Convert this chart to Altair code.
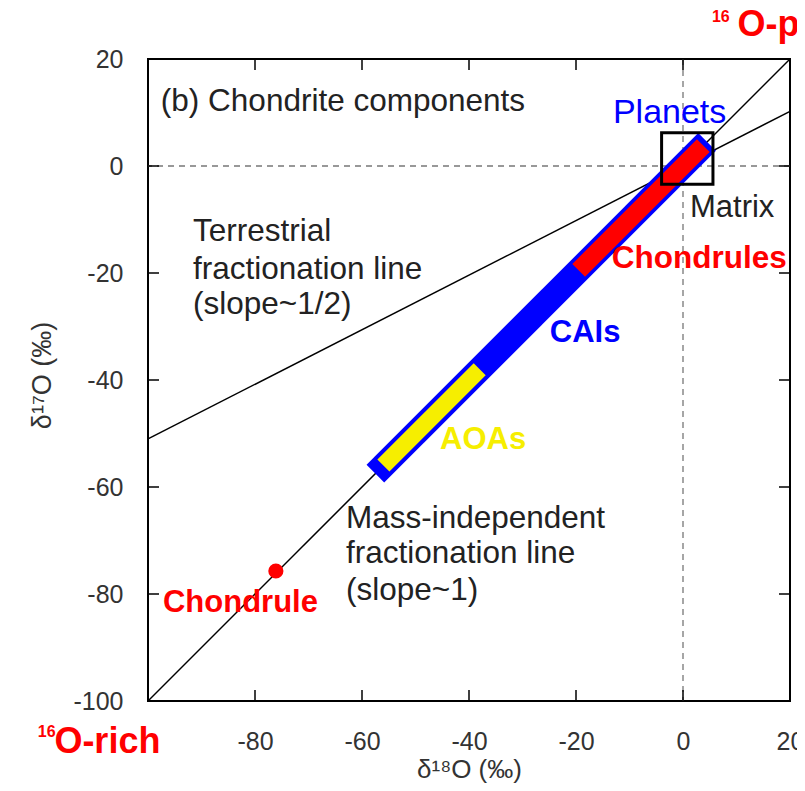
import altair as alt
import pandas as pd

# ---------------- data ----------------
x_tick_labels = [-80, -60, -40, -20, 0, 20]
y_tick_labels = [-100, -80, -60, -40, -20, 0, 20]
inner_ticks = [-80, -60, -40, -20, 0]

# mass-independent fractionation line (slope ~1)
mif_x = [-100, 20]
mif_y = [-100, 20]
# terrestrial fractionation line (slope ~1/2)
tfl_x = [-100, 20]
tfl_y = [-51.0, 10.2]

# component ranges along the slope-1 line
cai_x = [-57.5, 4.5]
cai_y = [-57.5, 4.5]
aoa_x = [-56.0, -38.0]
aoa_y = [-56.0, -38.0]
chondrules_x = [-19.5, 3.8]
chondrules_y = [-19.5, 3.8]

# matrix box
matrix_x = [-4.0, 5.6]
matrix_y = [-3.4, 6.2]

# single chondrule point
chondrule_pt_x = [-76.1]
chondrule_pt_y = [-75.7]

# labels
title_lab = {"x": [-97.6], "y": [12.0], "t": ["(b) Chondrite components"]}
planets_lab = {"x": [-13.1], "y": [9.9], "t": ["Planets"]}
matrix_lab = {"x": [1.3], "y": [-7.9], "t": ["Matrix"]}
chondrules_lab = {"x": [-13.3], "y": [-17.4], "t": ["Chondrules"]}
cais_lab = {"x": [-24.9], "y": [-31.2], "t": ["CAIs"]}
aoas_lab = {"x": [-45.4], "y": [-51.2], "t": ["AOAs"]}
chondrule_lab = {"x": [-97.2], "y": [-81.7], "t": ["Chondrule"]}
tfl_lab = {"x": [-91.6, -91.6, -91.6], "y": [-12.3, -19.4, -26.0],
           "t": ["Terrestrial", "fractionation line", "(slope~1/2)"]}
mif_lab = {"x": [-63.0, -63.0, -63.0], "y": [-66.0, -72.5, -79.4],
           "t": ["Mass-independent", "fractionation line", "(slope~1)"]}
rich_sup = {"x": [-120.6], "y": [-105.8], "t": ["16"]}
rich_main = {"x": [-117.5], "y": [-107.7], "t": ["O-rich"]}
poor_sup = {"x": [5.4], "y": [27.8], "t": ["16"]}
poor_main = {"x": [10.2], "y": [26.3], "t": ["O-poor"]}

W = 642
H = 642
FONT = "Liberation Sans"
TXT = "#222222"
BLUE = "#0000ff"
RED = "#ff0000"
YELLOW = "#f6ee00"

xs = alt.Scale(domain=[-100, 20], nice=False, zero=False)
ys = alt.Scale(domain=[-100, 20], nice=False, zero=False)

AX = alt.Axis(
    values=x_tick_labels, title="δ¹⁸O (‰)", domain=False, ticks=False, grid=False,
    labelExpr="datum.value + ''",
    labelFontSize=25, labelFont=FONT, labelColor="#333333", labelPadding=28,
    labelFlush=False, titleFont=FONT + ", DejaVu Sans", titleFontSize=26,
    titleFontWeight="normal", titleColor="#333333", titleY=68, titleBaseline="middle")
AY = alt.Axis(
    values=y_tick_labels, title="δ¹⁷O (‰)", domain=False, ticks=False, grid=False,
    labelExpr="datum.value + ''",
    labelFontSize=25, labelFont=FONT, labelColor="#333333", labelPadding=25,
    labelFlush=False, titleFont=FONT + ", DejaVu Sans", titleFontSize=27,
    titleFontWeight="normal", titleColor="#333333", titleX=-106, titleY=316,
    titleAngle=270, titleAlign="center", titleBaseline="middle")


def X(f="x"):
    return alt.X(f + ":Q", scale=xs, axis=AX, title="δ¹⁸O (‰)")


def Y(f="y"):
    return alt.Y(f + ":Q", scale=ys, axis=AY, title="δ¹⁷O (‰)")


def xy(df_x, df_y):
    return pd.DataFrame({"x": df_x, "y": df_y})


mif = alt.Chart(xy(mif_x, mif_y)).mark_line(color="black", strokeWidth=1.5).encode(x=X(), y=Y())

zero_df = pd.DataFrame({"v": [0]})
zero_v = alt.Chart(zero_df).mark_rule(color="#777777", strokeDash=[6, 5], strokeWidth=1.3).encode(x=X("v"))
zero_h = alt.Chart(zero_df).mark_rule(color="#777777", strokeDash=[6, 5], strokeWidth=1.3).encode(y=Y("v"))

tfl = alt.Chart(xy(tfl_x, tfl_y)).mark_line(color="black", strokeWidth=1.5).encode(x=X(), y=Y())


def band(bx, by, color, width):
    return alt.Chart(xy(bx, by)).mark_line(color=color, strokeWidth=width, strokeCap="butt").encode(x=X(), y=Y())


cai_band = band(cai_x, cai_y, BLUE, 25)
aoa_band = band(aoa_x, aoa_y, YELLOW, 17)
chd_band = band(chondrules_x, chondrules_y, RED, 18)

box = alt.Chart(pd.DataFrame({"x": [matrix_x[0]], "x2": [matrix_x[1]],
                              "y": [matrix_y[0]], "y2": [matrix_y[1]]})).mark_rect(
    fillOpacity=0, stroke="black", strokeWidth=3).encode(
    x=X(), x2="x2:Q", y=Y(), y2="y2:Q")

pt = alt.Chart(xy(chondrule_pt_x, chondrule_pt_y)).mark_point(
    shape="circle", filled=True, color=RED, size=230, opacity=1).encode(x=X(), y=Y())

tick_df = pd.DataFrame({"v": inner_ticks})
tick_style = dict(color="black", strokeWidth=1.5)
t_bottom = alt.Chart(tick_df).mark_rule(**tick_style).encode(x=X("v"), y=alt.value(H), y2=alt.value(H - 11))
t_top = alt.Chart(tick_df).mark_rule(**tick_style).encode(x=X("v"), y=alt.value(0), y2=alt.value(11))
t_left = alt.Chart(tick_df).mark_rule(**tick_style).encode(y=Y("v"), x=alt.value(0), x2=alt.value(11))
t_right = alt.Chart(tick_df).mark_rule(**tick_style).encode(y=Y("v"), x=alt.value(W), x2=alt.value(W - 11))


def label(d, size, color, weight="normal"):
    return alt.Chart(pd.DataFrame(d)).mark_text(
        align="left", baseline="middle", font=FONT, fontSize=size, color=color,
        fontWeight=weight).encode(x=X(), y=Y(), text="t:N")


texts = [
    label(title_lab, 31.5, TXT),
    label(planets_lab, 34, BLUE),
    label(matrix_lab, 31, TXT),
    label(chondrules_lab, 31.5, RED, "bold"),
    label(cais_lab, 31, BLUE, "bold"),
    label(aoas_lab, 31, YELLOW, "bold"),
    label(chondrule_lab, 31, RED, "bold"),
    label(tfl_lab, 31.5, TXT),
    label(mif_lab, 31.5, TXT),
    label(rich_sup, 16, RED, "bold"),
    label(rich_main, 36, RED, "bold"),
    label(poor_sup, 16, RED, "bold"),
    label(poor_main, 36, RED, "bold"),
]

chart = alt.layer(
    zero_v, zero_h, tfl, mif, cai_band, aoa_band, chd_band, box, pt,
    t_bottom, t_top, t_left, t_right, *texts
).properties(
    width=W, height=H,
    autosize=alt.AutoSizeParams(type="none"),
    padding={"left": 140, "top": 51, "right": 7, "bottom": 82},
).configure_view(stroke="black", strokeWidth=2)

chart.save("out.html", embed_options={"renderer": "svg", "actions": False})
